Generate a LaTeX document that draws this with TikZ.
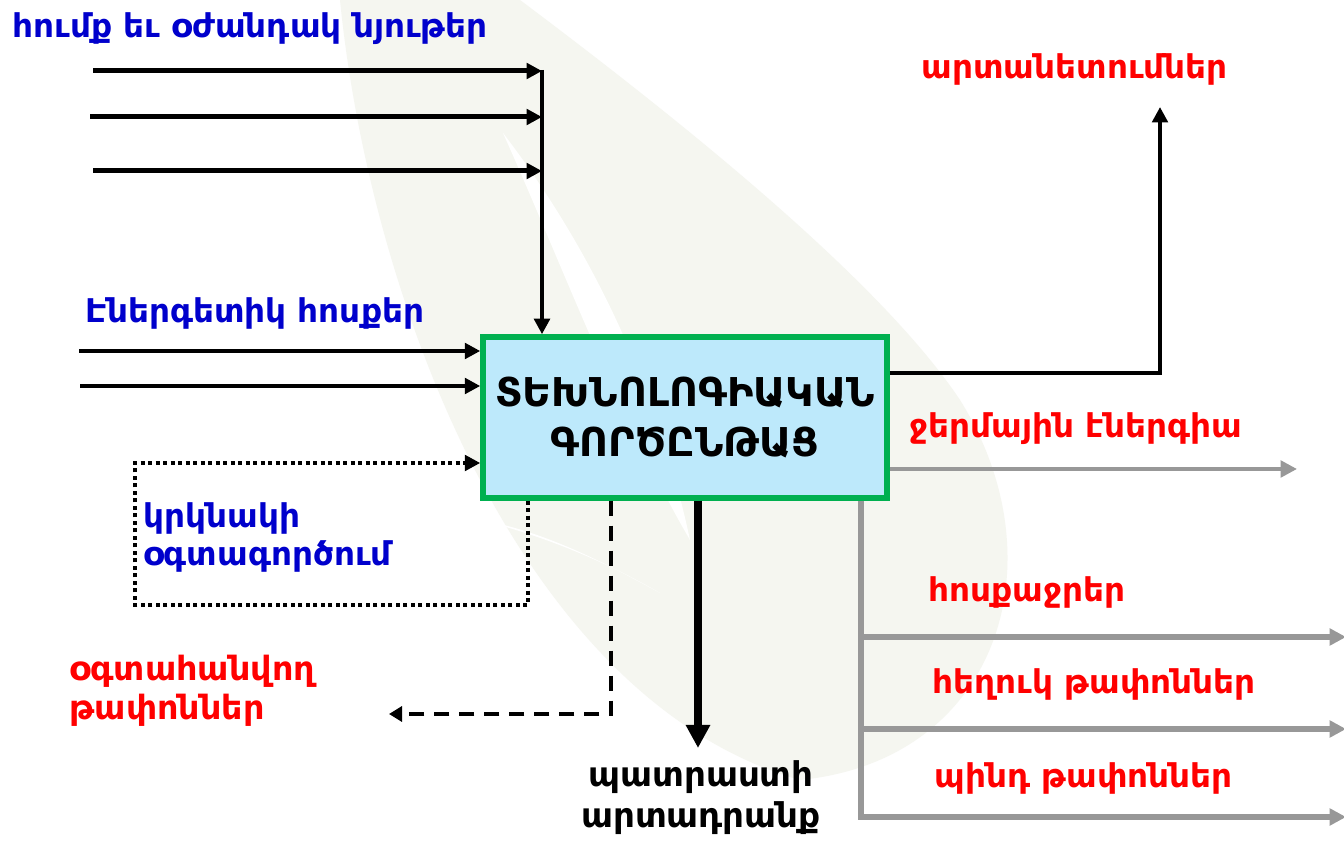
\documentclass[tikz,border=0pt]{standalone}
\usepackage{fontspec}
\setmainfont{DejaVu Sans}
\usetikzlibrary{arrows.meta}

\definecolor{inblue}{RGB}{0,0,204}
\definecolor{outred}{RGB}{255,0,0}
\definecolor{boxgreen}{RGB}{0,176,80}
\definecolor{boxfill}{RGB}{189,233,251}
\definecolor{flowgray}{RGB}{152,152,152}
\definecolor{leafgray}{RGB}{245,246,240}

\tikzset{
  lbl/.style={font=\bfseries\fontsize{9.3}{11}\selectfont, inner sep=0pt, anchor=base west, align=left},
  inlbl/.style={lbl, text=inblue},
  outlbl/.style={lbl, text=outred},
  procbox/.style={draw=boxgreen, fill=boxfill, line width=0.55mm, minimum width=40.4mm, minimum height=16.1mm,
    align=center, font=\bfseries\fontsize{11.3}{14.5}\selectfont},
  flow/.style={line width=0.5mm, -{Triangle[length=1.55mm,width=1.55mm]}},
  grayflow/.style={draw=flowgray, line width=0.55mm, -{Triangle[length=1.65mm,width=1.65mm]}}
}

\begin{document}
\begin{tikzpicture}[x=0.1mm,y=-0.1mm]
\useasboundingbox (0,0) rectangle (1344,843);
\fill[white] (0,0) rectangle (1344,843);

% Watermark - faint flame
\fill[leafgray] (340,0) .. controls (370,300) and (520,700) .. (800,780)
  .. controls (1000,760) and (1060,560) .. (960,400)
  .. controls (880,280) and (680,120) .. (520,0) -- cycle;
\fill[white] (503,133) .. controls (560,260) and (620,420) .. (690,540)
  .. controls (660,400) and (600,260) .. (503,133) -- cycle;
\fill[white] (620,27) .. controls (700,140) and (790,240) .. (867,237)
  .. controls (780,200) and (700,110) .. (620,27) -- cycle;
\fill[white] (480,520) .. controls (560,540) and (620,570) .. (660,593)
  .. controls (600,560) and (540,530) .. (480,520) -- cycle;

% Process box
\node[procbox] (proc) at (685,417.5) {ՏԵԽՆՈԼՈԳԻԱԿԱՆ\\ԳՈՐԾԸՆԹԱՑ};

% Left side - materials
\node[inlbl] (matlbl) at (12,38) {հումք եւ օժանդակ նյութեր};
\coordinate (bus) at (542,70);
\coordinate (m1) at (93,71);
\coordinate (m2) at (90,117);
\coordinate (m3) at (93,171);
\draw[flow] (m1) -- (m1 -| bus);
\draw[flow] (m2) -- (m2 -| bus);
\draw[flow] (m3) -- (m3 -| bus);
\draw[flow, line width=0.45mm] (bus) -- (bus |- proc.north);

% Left side - energy
\node[inlbl] (enlbl) at (85,323) {Էներգետիկ հոսքեր};
\coordinate (e1) at (79,351);
\coordinate (e2) at (80,386);
\draw[flow, line width=0.45mm] (e1) -- (e1 -| proc.west);
\draw[flow, line width=0.45mm] (e2) -- (e2 -| proc.west);

% Recycling loop
\coordinate (loopA) at (528,605);
\coordinate (loopB) at (135,463);
\draw[flow, line width=0.45mm, dash pattern=on 0.4mm off 0.35mm]
  (loopA |- proc.south) -- (loopA) -- (loopA -| loopB) -- (loopB) -- (loopB -| proc.west);
\node[inlbl] (reuselbl) at (143,566) {կրկնակի\\օգտագործում};

% Recoverable waste
\coordinate (wasteC) at (611,714);
\coordinate (wasteEnd) at (389,714);
\draw[line width=0.45mm, dash pattern=on 1.5mm off 1mm, -{Triangle[length=1.3mm,width=1.5mm]}]
  (wasteC |- proc.south) -- (wasteC) -- (wasteEnd);
\node[outlbl, font=\bfseries\fontsize{9.5}{11.2}\selectfont] (wastelbl) at (69,720) {օգտահանվող\\թափոններ};

% Finished product
\coordinate (prodEnd) at (698,748);
\draw[line width=0.85mm, -{Triangle[length=2.3mm,width=2.3mm]}] (prodEnd |- proc.south) -- (prodEnd);
\node[lbl, anchor=base, align=center, font=\bfseries\fontsize{9.7}{11.4}\selectfont] (prodlbl) at (701,827) {պատրաստի\\արտադրանք};

% Right side - emissions
\coordinate (emisC) at (1160,373);
\coordinate (emisEnd) at (1160,107);
\draw[flow, line width=0.45mm] (emisC -| proc.east) -- (emisC) -- (emisEnd);
\node[outlbl] (emislbl) at (921,79) {արտանետումներ};

% Right side - heat
\coordinate (heatEnd) at (1297,469);
\draw[grayflow, line width=0.4mm] (heatEnd -| proc.east) -- (heatEnd);
\node[outlbl] (heatlbl) at (909,438) {ջերմային էներգիա};

% Right side - wastes
\coordinate (gbus) at (861,817);
\coordinate (g1) at (1346,637);
\coordinate (g2) at (1346,729);
\coordinate (g3) at (1346,817);
\draw[grayflow] (gbus |- proc.south) -- (gbus) -- (g3);
\draw[grayflow] (g1 -| gbus) -- (g1);
\draw[grayflow] (g2 -| gbus) -- (g2);
\node[outlbl] (sewlbl) at (928,602) {հոսքաջրեր};
\node[outlbl] (liqlbl) at (932,694) {հեղուկ թափոններ};
\node[outlbl] (sollbl) at (934,788) {պինդ թափոններ};
\end{tikzpicture}
\end{document}
